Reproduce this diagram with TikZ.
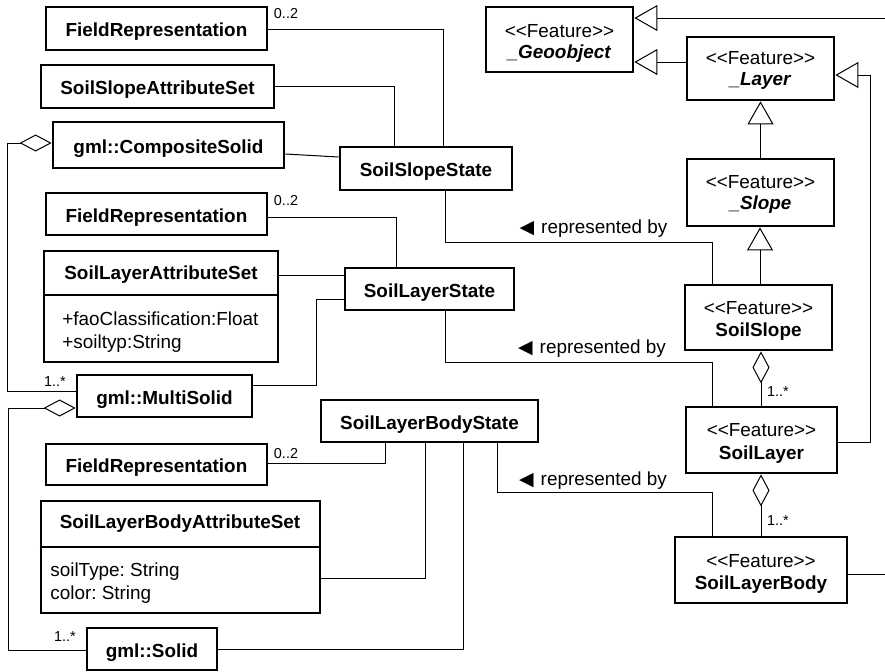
\documentclass[tikz,border=0pt]{standalone}
\usepackage{fontspec}
\setmainfont{Liberation Sans}
\newfontfamily\symfont{DejaVu Sans}
\usetikzlibrary{arrows.meta}
\newcommand\ftstereo{<\kern0pt<Feature>\kern0pt>}
\frenchspacing
\begin{document}
\begin{tikzpicture}[x=0.5pt,y=-0.5pt,
  every node/.style={font=\fontsize{9.45}{10}\selectfont\frenchspacing, inner sep=0pt},
  cls/.style={draw, line width=1.4pt, font=\fontsize{9.45}{10}\selectfont\bfseries, text height=8pt, text depth=0pt},
  feat/.style={draw, line width=1.4pt},
  txt/.style={anchor=base},
  attr/.style={anchor=base west},
  boxline/.style={line width=1.4pt},
  conn/.style={line width=0.5pt},
  gen/.style={conn, -{Triangle[open,length=11.5pt,width=13pt]}},
  agg/.style={conn, {Diamond[open,length=16pt,width=8.5pt]}-},
  mult/.style={font=\fontsize{7.2}{8}\selectfont},
  rep/.style={font=\fontsize{9.45}{10}\selectfont}
]
\useasboundingbox (0,0) rectangle (885,671);

% left column classes
\node[cls, minimum width=110.5pt, minimum height=21.5pt] (fr1) at (156.5,28.5) {FieldRepresentation};
\node[cls, minimum width=116.5pt, minimum height=21.5pt] (ssas) at (157.5,86.5) {SoilSlopeAttributeSet};
\node[cls, minimum width=115.5pt, minimum height=23pt] (gcs) at (168.5,145) {gml::CompositeSolid};
\node[cls, minimum width=86pt, minimum height=21.5pt] (sss) at (426,168.5) {SoilSlopeState};
\node[cls, minimum width=110.5pt, minimum height=21pt] (fr2) at (156.5,214) {FieldRepresentation};

\node[draw, line width=1.4pt, minimum width=117pt, minimum height=55.5pt] (slas) at (161,306.5) {};
\draw[boxline] (slas.west |- 0,295) -- (slas.east |- 0,295);
\node[txt, font=\fontsize{9.45}{10}\selectfont\bfseries] (slasT) at (161,279.5) {SoilLayerAttributeSet};
\node[attr] (slasA1) at (62,325) {+faoClassification:Float};
\node[attr] (slasA2) at (62,348) {+soiltyp:String};

\node[cls, minimum width=84.5pt, minimum height=21pt] (sls) at (429.5,289) {SoilLayerState};
\node[cls, minimum width=87.5pt, minimum height=21pt] (gms) at (164.5,396) {gml::MultiSolid};
\node[cls, minimum width=108.5pt, minimum height=21pt] (slbs) at (429.5,421) {SoilLayerBodyState};
\node[cls, minimum width=110.5pt, minimum height=20.5pt] (fr3) at (156.5,464.5) {FieldRepresentation};

\node[draw, line width=1.4pt, minimum width=139.5pt, minimum height=56pt] (slbas) at (180.5,557) {};
\draw[boxline] (slbas.west |- 0,547) -- (slbas.east |- 0,547);
\node[txt, font=\fontsize{9.45}{10}\selectfont\bfseries] (slbasT) at (180,528) {SoilLayerBodyAttributeSet};
\node[attr] (slbasA1) at (50,576) {soilType: String};
\node[attr] (slbasA2) at (50,599) {color: String};

\node[cls, minimum width=65pt, minimum height=21pt] (gs) at (152,649) {gml::Solid};

% right column features
\node[feat, minimum width=73.5pt, minimum height=32.5pt] (geo) at (559.5,39.5) {};
\node[txt] (geoA) at (559.5,37) {\ftstereo};
\node[txt] (geoB) at (559.5,58) {\textbf{\textit{\_Geoobject}}};
\node[feat, minimum width=73.5pt, minimum height=31.5pt] (layer) at (760.5,68.5) {};
\node[txt] (layerA) at (760.5,64) {\ftstereo};
\node[txt] (layerB) at (760.5,85) {\textbf{\textit{\_Layer}}};
\node[feat, minimum width=73.5pt, minimum height=33.5pt] (slope) at (760.5,192.5) {};
\node[txt] (slopeA) at (760.5,188) {\ftstereo};
\node[txt] (slopeB) at (760.5,209.5) {\textbf{\textit{\_Slope}}};
\node[feat, minimum width=73.5pt, minimum height=32.5pt] (soilslope) at (758.5,317.5) {};
\node[txt] (soilslopeA) at (758.5,314) {\ftstereo};
\node[txt] (soilslopeB) at (758.5,336) {\textbf{SoilSlope}};
\node[feat, minimum width=75.5pt, minimum height=33pt] (soillayer) at (761.5,440) {};
\node[txt] (soillayerA) at (761.5,436) {\ftstereo};
\node[txt] (soillayerB) at (761.5,459) {\textbf{SoilLayer}};
\node[feat, minimum width=86pt, minimum height=33pt] (slb) at (761,570) {};
\node[txt] (slbA) at (761,567) {\ftstereo};
\node[txt] (slbB) at (761,589) {\textbf{SoilLayerBody}};

% connectors left
\draw[conn] (fr1.east |- 0,29) -| (443,0 |- sss.north);
\node[mult] (m1) at (286,14) {0..2};
\draw[conn] (ssas.east) -| (394,0 |- sss.north);
\draw[conn] (gcs.east |- 0,154) -- (sss.west |- 0,157);
\draw[agg] (gcs.west |- 0,143) -- (7,143) -- (7,391) -- (gms.west |- 0,391);
\node[mult] (m2) at (55,382) {1..*};

\draw[conn] (445,0 |- sss.south) -- (445,242) -- (712,242) -- (712,0 |- soilslope.north);
\node[rep] (rep1) at (593.5,229) {{\symfont ◀}\hspace{3.5pt}represented by};

\draw[conn] (fr2.east |- 0,217) -| (396,0 |- sls.north);
\node[mult] (m3) at (286,201) {0..2};
\draw[conn] (slas.east |- 0,275) -- (sls.west |- 0,275);
\draw[conn] (sls.west |- 0,299) -- (316,299) -- (316,385) -- (gms.east |- 0,385);
\draw[conn] (445,0 |- sls.south) -- (445,362) -- (712,362) -- (712,0 |- soillayer.north);
\node[rep] (rep2) at (592,349) {{\symfont ◀}\hspace{3.5pt}represented by};

\draw[agg] (gms.west |- 0,408) -- (8,408) -- (8,650) -- (gs.west |- 0,650);
\node[mult] (m4) at (65,637) {1..*};

\draw[conn] (385,0 |- slbs.south) -- (385,463) -- (fr3.east |- 0,463);
\node[mult] (m5) at (286,454) {0..2};
\draw[conn] (425,0 |- slbs.south) -- (425,578) -- (slbas.east |- 0,578);
\draw[conn] (463,0 |- slbs.south) -- (463,649) -- (gs.east |- 0,649);
\draw[conn] (497,0 |- slbs.south) -- (497,492) -- (712,492) -- (712,0 |- slb.north);
\node[rep] (rep3) at (593,481) {{\symfont ◀}\hspace{3.5pt}represented by};

% connectors right
\coordinate (e1) at (885,18);
\draw[gen] (e1) -- (geo.east |- e1);
\draw[gen] (layer.west |- 0,62) -- (geo.east |- 0,62);
\draw[gen] (soillayer.east |- 0,442) -- (870,442) -- (870,75) -- (layer.east |- 0,75);
\draw[gen] (slope.north) -- (layer.south);
\draw[gen] (760,0 |- soilslope.north) -- (760,0 |- slope.south);
\draw[agg] (761,0 |- soilslope.south) -- (761,0 |- soillayer.north);
\node[mult] (m6) at (778,392) {1..*};
\draw[agg] (761,0 |- soillayer.south) -- (761,0 |- slb.north);
\node[mult] (m7) at (778,521) {1..*};
\coordinate (e2) at (885,574);
\draw[conn] (slb.east |- e2) -- (e2);
\end{tikzpicture}
\end{document}
